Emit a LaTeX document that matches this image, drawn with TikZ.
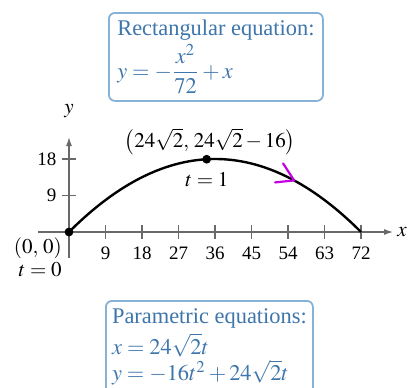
\documentclass[tikz,border=0pt]{standalone}
\usepackage{amsmath}
\usepackage{mathptmx}
\usepackage{fontspec}
\setmainfont{Liberation Serif}
\usetikzlibrary{arrows.meta}

\definecolor{eqblue}{RGB}{62,118,172}
\definecolor{boxline}{RGB}{135,178,215}
\definecolor{axisgray}{RGB}{105,105,105}
\definecolor{penmagenta}{RGB}{195,0,225}

\tikzset{
  eqbox/.style={draw=boxline,line width=0.9pt,rounded corners=3pt,fill=white,
    text=eqblue,align=left,inner xsep=3pt,inner ysep=3pt,
    font=\fontsize{11.2}{11.5}\selectfont},
  axisline/.style={draw=axisgray,line width=0.6pt},
  tickline/.style={draw=axisgray,line width=0.6pt},
  ticklabel/.style={font=\fontsize{9.5}{11}\selectfont,inner sep=0pt},
  plotlabel/.style={font=\fontsize{10.5}{12}\selectfont,inner sep=0pt}
}

\begin{document}
\begin{tikzpicture}[x=0.5pt,y=0.5pt]
\useasboundingbox (0,0) rectangle (412,387);
% equation boxes
\node[eqbox,anchor=north west,minimum width=107pt,minimum height=44pt] (rect) at (108,375)
  {Rectangular equation:\\[1pt] $y=-\dfrac{x^2}{72}+x$};
\node[eqbox,anchor=north west,minimum width=103.5pt,inner ysep=4pt,
  font=\fontsize{11.2}{11}\selectfont] (param) at (105,87)
  {Parametric equations:\\[1.5pt] $x=24\sqrt{2}t$\\[0.5pt] $y=-16t^2+24\sqrt{2}t$\\[4pt]};
\coordinate (O) at (69,155);
\begin{scope}[shift={(O)},x=2.028pt,y=2.028pt]
% axes
\draw[axisline,-{Latex[length=4.5pt,width=3pt]}] (-7.6,0) -- (79.9,0) coordinate (xend);
\draw[axisline,-{Latex[length=4.5pt,width=3pt]}] (0,-6.4) -- (0,23.4) coordinate (yend);
\node[plotlabel,right=2pt] (xlab) at (xend) {$x$};
\node[plotlabel] (ylab) at (0,29.8) {$y$};
% ticks
\draw[tickline] (9,-1.7) -- (9,1.7);\node[ticklabel] (t9) at (9,-5.2) {9};
\draw[tickline] (18,-1.7) -- (18,1.7);\node[ticklabel] (t18) at (18,-5.2) {18};
\draw[tickline] (27,-1.7) -- (27,1.7);\node[ticklabel] (t27) at (27,-5.2) {27};
\draw[tickline] (36,-1.7) -- (36,1.7);\node[ticklabel] (t36) at (36,-5.2) {36};
\draw[tickline] (45,-1.7) -- (45,1.7);\node[ticklabel] (t45) at (45,-5.2) {45};
\draw[tickline] (54,-1.7) -- (54,1.7);\node[ticklabel] (t54) at (54,-5.2) {54};
\draw[tickline] (63,-1.7) -- (63,1.7);\node[ticklabel] (t63) at (63,-5.2) {63};
\draw[tickline] (72,-1.7) -- (72,1.7);\node[ticklabel] (t72) at (72,-5.2) {72};
\draw[tickline] (-1.7,9) -- (1.7,9);\node[ticklabel,anchor=east] (u9) at (-3,9) {9};
\draw[tickline] (-1.7,18) -- (1.7,18);\node[ticklabel,anchor=east] (u18) at (-3,18) {18};
% path of the projectile
\draw[line width=1.2pt] plot[domain=0:72,samples=80] (\x,{-\x*\x/72+\x});
\fill (0,0) circle (2.2pt) coordinate (start);
\fill (33.94,17.94) circle (2.2pt) coordinate (top);
\node[plotlabel] (toplab) at (34.8,22.2) {$\bigl(24\sqrt{2},\,24\sqrt{2}-16\bigr)$};
\node[plotlabel] (tone) at (34.0,12.8) {$t=1$};
\node[plotlabel,anchor=east] (startlab) at (-1.7,-3.9) {$(0,\,0)$};
\node[plotlabel] (tzero) at (-7.1,-9.4) {$t=0$};
% hand drawn direction mark
\coordinate (tip) at (55.5,12.72);
\draw[penmagenta,line width=1.1pt,line cap=round,line join=round]
  (tip) ++(-5.5pt,8.5pt) -- (tip) -- ++(-9.5pt,-1pt);
\end{scope}
\end{tikzpicture}
\end{document}
